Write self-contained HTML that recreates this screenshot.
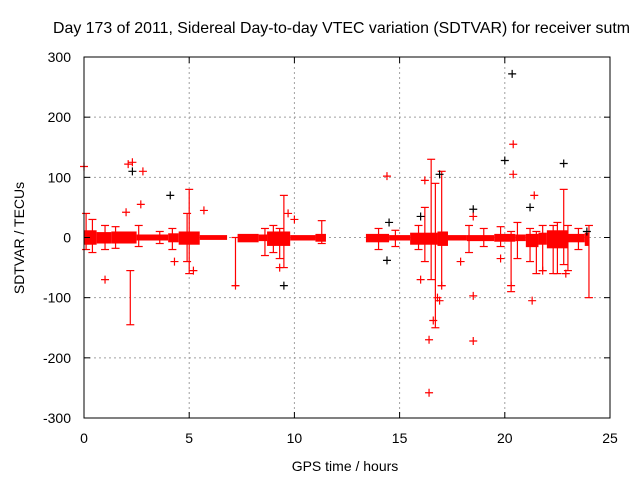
<!DOCTYPE html>
<html><head><meta charset="utf-8"><style>
body{margin:0;background:#fff;overflow:hidden}
svg{display:block;font-family:"Liberation Sans",sans-serif}
</style></head><body>
<svg id="chart" width="640" height="480">
<rect width="640" height="480" fill="#fff"/>
<text x="53" y="33" font-size="15.9">Day 173 of 2011, Sidereal Day-to-day VTEC variation (SDTVAR) for receiver sutm</text>
<g id="grid"></g>
<g id="plot"></g>
<g id="axes"></g>
<text x="24" y="238" font-size="14" text-anchor="middle" transform="rotate(-90 24 238)">SDTVAR / TECUs</text>
<text x="345" y="471" font-size="14" text-anchor="middle">GPS time / hours</text>
</svg>
<script>
const xTicks=[0,5,10,15,20,25];
const yTicks=[300,200,100,0,-100,-200,-300];
// dense bands: start hour, end hour, upper, lower
const bandStart=[0,0.6,1.3,2.5,4,4.5,5.5,7.3,8.3,8.7,9.8,11,13.4,14.5,15.5,16.8,17.3,18.2,19.5,20.5,21,21.6,22,23,23.8];
const bandEnd=[0.6,1.3,2.5,4,4.5,5.5,6.8,8.3,8.7,9.8,11,11.5,14.5,15.5,16.8,17.3,18.2,19.5,20.5,21,21.6,22,23,23.8,24];
const bandUp=[12,9,10,5,7,10,4,6,5,10,4,6,6,4,8,10,4,4,6,5,6,8,12,6,8];
const bandLo=[-12,-10,-10,-5,-8,-12,-4,-8,-6,-14,-5,-7,-8,-5,-12,-14,-5,-6,-7,-6,-16,-12,-18,-8,-14];
// spikes: hour, low, high
const spikeX=[2.2,5.0,7.2,9.3,9.5,16.5,16.7,17.0,20.3,21.5,22.3,22.8,23.0,24.0,4.9,0.1,0.4,1.0,1.5,2.6,3.6,4.2,8.6,9.0,11.3,14.0,14.8,15.9,16.2,18.3,19.0,19.8,20.6,21.2,21.8,22.5,23.5];
const spikeLo=[-145,-60,-80,-35,-50,-70,-150,-80,-90,-60,-60,-45,-55,-100,-40,-20,-25,-20,-18,-15,-10,-20,-30,-25,-10,-20,-15,-20,-40,-25,-15,-15,-35,-40,-55,-60,-20];
const spikeHi=[-55,80,0,15,70,130,90,110,10,10,20,80,20,20,40,40,30,20,18,20,10,15,15,20,28,15,12,20,50,20,15,18,25,15,20,25,15];
// outlier points
const ptX=[0,2.1,2.3,2.8,1.0,4.3,5.7,7.2,9.3,10,14.4,16.4,16.6,16.4,16.9,17,18.5,18.5,18.5,20.4,19.8,21.3,22.9,20.3,20.4,16.2,16.8,21.4,2.0,2.7,5.2,9.7,16.0,17.9,21.8];
const ptY=[118,122,125,110,-70,-40,45,-80,-50,30,102,-170,-138,-258,-105,-80,-172,-97,35,155,-35,-105,-60,-80,105,95,-100,70,42,55,-55,40,-70,-40,-55];
const blkX=[2.3,4.1,9.5,14.5,16.9,18.5,20.35,20,21.2,22.8,16.0,23.9,14.4];
const blkY=[110,70,-80,25,105,47,272,128,50,123,35,10,-38];

const NS="http://www.w3.org/2000/svg";
const X0=84,X1=610,Y0=57,Y1=418;
const xs=h=>X0+(h/25)*(X1-X0);
const ys=v=>Y0+(300-v)/600*(Y1-Y0);
function mk(tag,attrs,parent){const e=document.createElementNS(NS,tag);for(const k in attrs)e.setAttribute(k,attrs[k]);parent.appendChild(e);return e;}
const grid=document.getElementById('grid'),plot=document.getElementById('plot'),axes=document.getElementById('axes');
xTicks.forEach(t=>{
  if(t>0&&t<25){const l=mk('line',{x1:xs(t),x2:xs(t),y1:Y0,y2:Y1,stroke:'#a0a0a0','stroke-dasharray':'2,3'},grid);
  
  }
  mk('line',{x1:xs(t),x2:xs(t),y1:Y1,y2:Y1-6,stroke:'#000'},axes);
  mk('line',{x1:xs(t),x2:xs(t),y1:Y0,y2:Y0+6,stroke:'#000'},axes);
  const tx=mk('text',{x:xs(t),y:443,'font-size':14,'text-anchor':'middle'},axes);tx.textContent=t;
  
  
});
yTicks.forEach(t=>{
  if(t<300&&t>-300){const l=mk('line',{x1:X0,x2:X1,y1:ys(t),y2:ys(t),stroke:'#a0a0a0','stroke-dasharray':'2,3'},grid);
  
  }
  mk('line',{x1:X0,x2:X0+6,y1:ys(t),y2:ys(t),stroke:'#000'},axes);
  mk('line',{x1:X1,x2:X1-6,y1:ys(t),y2:ys(t),stroke:'#000'},axes);
  const tx=mk('text',{x:71,y:ys(t)+5,'font-size':14,'text-anchor':'end'},axes);tx.textContent=t;
  
  
});
const border=mk('rect',{x:X0,y:Y0,width:X1-X0,height:Y1-Y0,fill:'none',stroke:'#000'},axes);


function plus(x,y,c,name){
  const g=mk('path',{d:`M${x-4},${y}h8M${x},${y-4}v8`,stroke:c,'stroke-width':1.2,fill:'none'},plot);
  
  
}
bandStart.forEach((s,i)=>{
  const r=mk('rect',{x:xs(s),y:ys(bandUp[i]),width:xs(bandEnd[i])-xs(s),height:ys(bandLo[i])-ys(bandUp[i]),fill:'#f00'},plot);
  
  
});
spikeX.forEach((h,i)=>{
  const l=mk('line',{x1:xs(h),x2:xs(h),y1:ys(spikeLo[i]),y2:ys(spikeHi[i]),stroke:'#f00','stroke-width':1.2},plot);
  
  
  mk('line',{x1:xs(h)-4,x2:xs(h)+4,y1:ys(spikeLo[i]),y2:ys(spikeLo[i]),stroke:'#f00','stroke-width':1.2},plot);
  mk('line',{x1:xs(h)-4,x2:xs(h)+4,y1:ys(spikeHi[i]),y2:ys(spikeHi[i]),stroke:'#f00','stroke-width':1.2},plot);
});
blkX.forEach((h,i)=>plus(xs(h),ys(blkY[i]),'#000','black-point'));
ptX.forEach((h,i)=>plus(xs(h),ys(ptY[i]),'#f00','red-point'));
</script>
</body></html>
